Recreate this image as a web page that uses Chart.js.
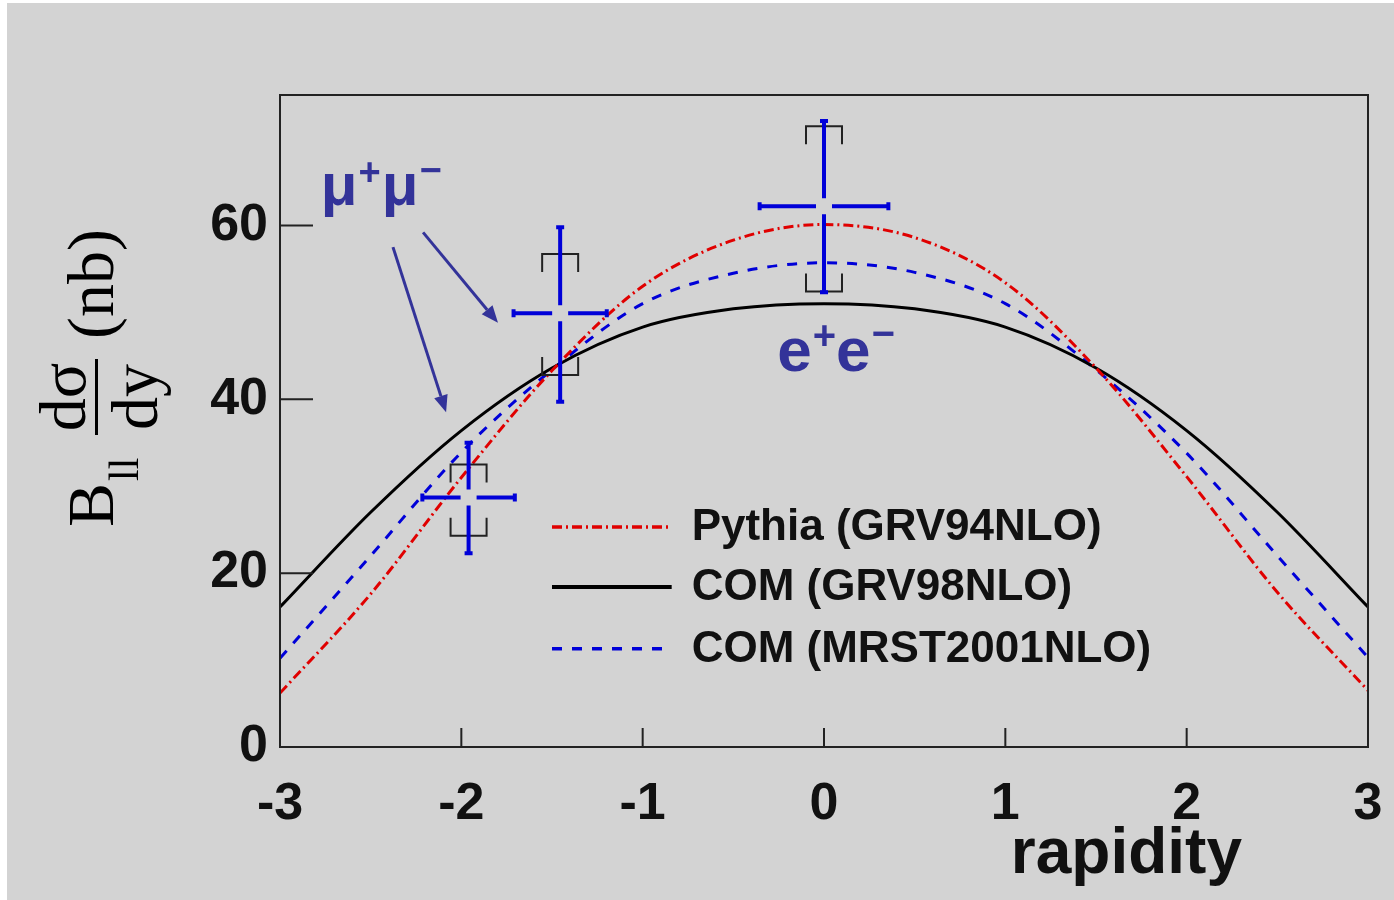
<!DOCTYPE html>
<html>
<head>
<meta charset="utf-8">
<script src="https://cdn.jsdelivr.net/npm/chart.js@4.4.1/dist/chart.umd.min.js"></script>
<style>
html, body { margin: 0; padding: 0; background: #fff; }
#wrap { position: absolute; left: 0; top: 0; width: 1394px; height: 900px; }
</style>
</head>
<body>
<div id="wrap"><canvas id="c" width="1394" height="900"></canvas></div>
<script>
// curves
const rapidity = [-3, -2.5, -2, -1.5, -1, -0.5, 0, 0.5, 1, 1.5, 2, 2.5, 3];
const pythiaGrv94 = [6.2, 17.6, 31.0, 43.3, 53.0, 58.3, 60.1, 58.6, 53.4, 43.6, 31.1, 17.8, 6.5];
const comGrv98 = [16.1, 27.0, 36.4, 43.6, 48.3, 50.4, 51.0, 50.4, 48.3, 43.6, 36.4, 27.0, 16.1];
const comMrst2001 = [10.2, 22.0, 33.9, 43.4, 51.0, 54.5, 55.7, 54.6, 51.0, 43.4, 33.8, 22.0, 10.3];

// measured points (mu+mu- at -1.96 and -1.455, e+e- at 0)
const pointX = [-1.96, -1.455, 0.0];
const pointXErr = [0.255, 0.257, 0.355];
const pointY = [28.7, 49.9, 62.2];
const statLo = [22.3, 39.7, 52.3];
const statHi = [35.0, 59.8, 72.0];
const sysLo = [24.3, 42.8, 52.4];
const sysHi = [32.5, 56.7, 71.4];

const legendLabels = ['Pythia (GRV94NLO)', 'COM (GRV98NLO)', 'COM (MRST2001NLO)'];
const yTicks = [0, 20, 40, 60];

const RED = '#e00000';
const BLUE = '#0000d8';
const BLACK = '#000000';
const NOTE = '#333399';
const SANS = '"Liberation Sans", Arial, sans-serif';
const SERIF = '"Liberation Serif", "Times New Roman", serif';

function toPoints(ys) {
    return rapidity.map((x, i) => ({ x: x, y: ys[i] }));
}

// draws text pieces one after the other: [text, size, raise, extra gap]
function drawPieces(ctx, pieces, x, y, color) {
    ctx.fillStyle = color;
    ctx.textAlign = 'left';
    ctx.textBaseline = 'alphabetic';
    let cx = x;
    pieces.forEach(p => {
        ctx.font = 'bold ' + p[1] + 'px ' + SANS;
        ctx.fillText(p[0], cx, y - p[2]);
        cx += ctx.measureText(p[0]).width + (p[3] || 0);
    });
}

function arrow(ctx, x1, y1, x2, y2, color) {
    const a = Math.atan2(y2 - y1, x2 - x1);
    const len = 17, half = 7;
    const bx = x2 - len * Math.cos(a), by = y2 - len * Math.sin(a);
    ctx.strokeStyle = color;
    ctx.fillStyle = color;
    ctx.lineWidth = 3;
    ctx.beginPath();
    ctx.moveTo(x1, y1);
    ctx.lineTo(bx, by);
    ctx.stroke();
    ctx.beginPath();
    ctx.moveTo(x2, y2);
    ctx.lineTo(bx + half * Math.sin(a), by - half * Math.cos(a));
    ctx.lineTo(bx - half * Math.sin(a), by + half * Math.cos(a));
    ctx.closePath();
    ctx.fill();
}

const backdrop = {
    id: 'backdrop',
    beforeDraw(chart) {
        const ctx = chart.ctx;
        ctx.save();
        ctx.fillStyle = '#ffffff';
        ctx.fillRect(0, 0, chart.width, chart.height);
        ctx.fillStyle = '#d3d3d3';
        ctx.fillRect(7, 3, chart.width - 7, chart.height - 3);
        ctx.restore();
    }
};

const extras = {
    id: 'extras',
    afterDatasetsDraw(chart) {
        const ctx = chart.ctx;
        const xs = chart.scales.x, ys = chart.scales.y;
        const area = chart.chartArea;
        ctx.save();

        // systematic brackets
        ctx.strokeStyle = '#222';
        ctx.lineWidth = 2;
        pointX.forEach((x, i) => {
            const px = xs.getPixelForValue(x);
            const top = ys.getPixelForValue(sysHi[i]);
            const bot = ys.getPixelForValue(sysLo[i]);
            ctx.beginPath();
            ctx.moveTo(px - 18, top + 18); ctx.lineTo(px - 18, top);
            ctx.lineTo(px + 18, top); ctx.lineTo(px + 18, top + 18);
            ctx.moveTo(px - 18, bot - 18); ctx.lineTo(px - 18, bot);
            ctx.lineTo(px + 18, bot); ctx.lineTo(px + 18, bot - 18);
            ctx.stroke();
        });

        // statistical error crosses
        ctx.strokeStyle = BLUE;
        ctx.lineWidth = 4;
        const gap = 8, cap = 4;
        pointX.forEach((x, i) => {
            const px = xs.getPixelForValue(x);
            const py = ys.getPixelForValue(pointY[i]);
            const l = xs.getPixelForValue(x - pointXErr[i]);
            const r = xs.getPixelForValue(x + pointXErr[i]);
            const t = ys.getPixelForValue(statHi[i]);
            const b = ys.getPixelForValue(statLo[i]);
            ctx.beginPath();
            ctx.moveTo(l, py); ctx.lineTo(px - gap, py);
            ctx.moveTo(px + gap, py); ctx.lineTo(r, py);
            ctx.moveTo(px, t); ctx.lineTo(px, py - gap);
            ctx.moveTo(px, py + gap); ctx.lineTo(px, b);
            ctx.moveTo(l, py - cap); ctx.lineTo(l, py + cap);
            ctx.moveTo(r, py - cap); ctx.lineTo(r, py + cap);
            ctx.moveTo(px - cap, t); ctx.lineTo(px + cap, t);
            ctx.moveTo(px - cap, b); ctx.lineTo(px + cap, b);
            ctx.stroke();
        });

        // frame and inward ticks
        ctx.strokeStyle = '#222';
        ctx.lineWidth = 2;
        ctx.strokeRect(area.left, area.top, area.right - area.left, area.bottom - area.top);
        ctx.beginPath();
        yTicks.forEach(v => {
            const py = ys.getPixelForValue(v);
            ctx.moveTo(area.left, py); ctx.lineTo(area.left + 33, py);
        });
        for (let v = -3; v <= 3; v++) {
            const px = xs.getPixelForValue(v);
            ctx.moveTo(px, area.bottom); ctx.lineTo(px, area.bottom - 19);
        }
        ctx.stroke();

        // legend
        const rows = [25.3, 18.4, 11.3];
        const styles = [[RED, [10, 4, 2, 4]], [BLACK, []], [BLUE, [10, 10]]];
        const lx1 = xs.getPixelForValue(-1.5), lx2 = xs.getPixelForValue(-0.84);
        const tx = xs.getPixelForValue(-0.73);
        rows.forEach((v, i) => {
            const py = ys.getPixelForValue(v);
            ctx.strokeStyle = styles[i][0];
            ctx.lineWidth = i === 1 ? 4 : 3.5;
            ctx.setLineDash(styles[i][1]);
            ctx.beginPath();
            ctx.moveTo(lx1, py); ctx.lineTo(lx2, py);
            ctx.stroke();
            ctx.setLineDash([]);
            ctx.fillStyle = '#111';
            ctx.font = 'bold 44px ' + SANS;
            ctx.textAlign = 'left';
            ctx.textBaseline = 'middle';
            ctx.fillText(legendLabels[i], tx, py + 1);
        });

        // annotations
        drawPieces(ctx, [['μ', 60, 0, 1], ['+', 38, 20, 1], ['μ', 60, 0, 1], ['−', 38, 22, 0]],
            xs.getPixelForValue(-2.775), ys.getPixelForValue(62.3), NOTE);
        drawPieces(ctx, [['e', 62, 0, 1], ['+', 40, 22, 0], ['e', 62, 0, 1], ['−', 40, 24, 0]],
            xs.getPixelForValue(-0.258), ys.getPixelForValue(43.3), NOTE);
        arrow(ctx, xs.getPixelForValue(-2.377), ys.getPixelForValue(57.5),
            xs.getPixelForValue(-2.084), ys.getPixelForValue(38.5), NOTE);
        arrow(ctx, xs.getPixelForValue(-2.211), ys.getPixelForValue(59.2),
            xs.getPixelForValue(-1.798), ys.getPixelForValue(48.8), NOTE);

        ctx.restore();
    },
    afterDraw(chart) {
        const ctx = chart.ctx;
        const area = chart.chartArea;
        ctx.save();

        // x title
        ctx.fillStyle = '#111';
        ctx.font = 'bold 64px ' + SANS;
        ctx.textAlign = 'right';
        ctx.textBaseline = 'alphabetic';
        ctx.fillText('rapidity', area.right - 126, 873);

        // y title: B_ll dsigma/dy (nb), rotated
        ctx.translate(0, 527);
        ctx.rotate(-Math.PI / 2);
        ctx.fillStyle = '#000';
        ctx.textBaseline = 'alphabetic';
        ctx.textAlign = 'left';
        ctx.font = '66px ' + SERIF;
        ctx.fillText('B', 0, 113);
        ctx.font = '42px ' + SERIF;
        ctx.fillText('ll', 46, 138);
        ctx.font = '66px ' + SERIF;
        ctx.textAlign = 'center';
        ctx.fillText('dσ', 130, 85);
        ctx.fillText('dy', 130, 157);
        ctx.fillRect(92, 95, 76, 3);
        ctx.textAlign = 'left';
        ctx.fillText('(nb)', 188, 113);
        ctx.restore();
    }
};

new Chart(document.getElementById('c'), {
    type: 'scatter',
    data: {
        datasets: [
            {
                label: legendLabels[0],
                data: toPoints(pythiaGrv94),
                borderColor: RED,
                borderWidth: 3,
                borderDash: [10, 4, 2, 4],
                showLine: true,
                pointRadius: 0,
                cubicInterpolationMode: 'monotone'
            },
            {
                label: legendLabels[1],
                data: toPoints(comGrv98),
                borderColor: BLACK,
                borderWidth: 3,
                showLine: true,
                pointRadius: 0,
                cubicInterpolationMode: 'monotone'
            },
            {
                label: legendLabels[2],
                data: toPoints(comMrst2001),
                borderColor: BLUE,
                borderWidth: 3,
                borderDash: [10, 10],
                showLine: true,
                pointRadius: 0,
                cubicInterpolationMode: 'monotone'
            }
        ]
    },
    options: {
        responsive: false,
        animation: false,
        layout: { padding: { left: 0, top: 95, right: 26, bottom: 0 } },
        plugins: {
            legend: { display: false },
            tooltip: { enabled: false }
        },
        scales: {
            x: {
                type: 'linear',
                min: -3,
                max: 3,
                afterFit: s => {
                    s.height = 153;
                    s.paddingLeft = 0;
                    s.paddingRight = 0;
                },
                grid: { display: false, drawTicks: false },
                border: { display: false },
                ticks: {
                    stepSize: 1,
                    padding: 26,
                    color: '#111',
                    maxRotation: 0,
                    font: { family: SANS, size: 52, weight: 'bold' },
                    callback: v => String(v)
                }
            },
            y: {
                type: 'linear',
                min: 0,
                max: 75,
                afterFit: s => {
                    s.width = 280;
                    s.paddingTop = 0;
                    s.paddingBottom = 0;
                },
                grid: { display: false, drawTicks: false },
                border: { display: false },
                ticks: {
                    stepSize: 20,
                    includeBounds: false,
                    padding: 12,
                    color: '#111',
                    font: { family: SANS, size: 52, weight: 'bold' },
                    callback: v => String(v)
                }
            }
        }
    },
    plugins: [backdrop, extras]
});
</script>
</body>
</html>
